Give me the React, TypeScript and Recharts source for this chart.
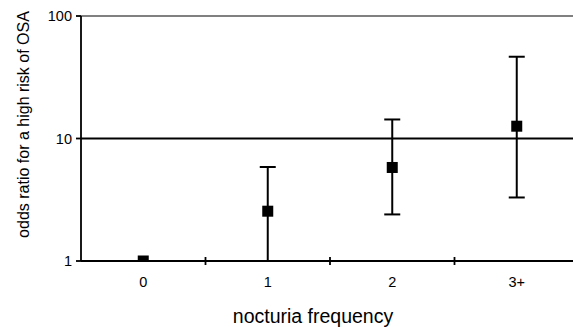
import React from "react";
import {
  ComposedChart,
  Scatter,
  XAxis,
  YAxis,
  ErrorBar,
  ReferenceLine,
} from "recharts";

const categories = ["0", "1", "2", "3+"];
const oddsRatio = [1.0, 2.55, 5.8, 12.6];
const ciLow = [1.0, 1.0, 2.4, 3.3];
const ciHigh = [1.0, 5.85, 14.3, 46.5];
const yTicks = [1, 10, 100];

const data = categories.map((c, i) => ({
  idx: i,
  cat: c,
  or: oddsRatio[i],
  err: [oddsRatio[i] - ciLow[i], ciHigh[i] - oddsRatio[i]],
}));

const xTicks: number[] = [];
categories.forEach((_, i) => {
  xTicks.push(i);
  if (i < categories.length - 1) xTicks.push(i + 0.5);
});

const FONT = "'Liberation Sans', Arial, sans-serif";

const XTick = (props: any) => {
  const { x, y, payload } = props;
  const v = payload.value;
  if (Number.isInteger(v)) {
    return (
      <text x={x} y={y + 26} textAnchor="middle" fontSize={14.5} fontFamily={FONT} fill="#000">
        {categories[v]}
      </text>
    );
  }
  return <line x1={x} y1={y - 4} x2={x} y2={y + 4} stroke="#000" strokeWidth={1.8} />;
};

const Square = (props: any) => {
  const { cx, cy } = props;
  const s = 11;
  return <rect x={cx - s / 2} y={cy - s / 2} width={s} height={s} fill="#000" />;
};

export default function App() {
  return (
    <div style={{ position: "absolute", left: 0, top: 0 }}>
      <ComposedChart
        width={600}
        height={327}
        data={data}
        margin={{ top: 16, right: 21, left: 0, bottom: 16 }}
      >
        <ReferenceLine y={100} stroke="#808080" strokeWidth={1.8} />
        <ReferenceLine y={10} stroke="#000" strokeWidth={1.8} />
        <XAxis
          dataKey="idx"
          type="number"
          domain={[-0.5, 3.5]}
          ticks={xTicks}
          interval={0}
          tickLine={false}
          tickSize={0}
          tickMargin={0}
          tick={<XTick />}
          axisLine={{ stroke: "#000", strokeWidth: 1.8 }}
          height={50}
          label={({ viewBox }: any) => (
            <text
              x={viewBox.x + viewBox.width / 2 - 17}
              y={323}
              textAnchor="middle"
              fontSize={19.5}
              fontFamily={FONT}
              fill="#000"
            >
              nocturia frequency
            </text>
          )}
        />
        <YAxis
          type="number"
          scale="log"
          domain={[1, 100]}
          ticks={yTicks}
          interval={0}
          allowDataOverflow
          width={81}
          tickSize={5}
          tickMargin={4}
          tick={{ fontSize: 14.5, fontFamily: FONT, fill: "#000" }}
          tickLine={{ stroke: "#000", strokeWidth: 1.8 }}
          axisLine={{ stroke: "#000", strokeWidth: 1.8 }}
          label={({ viewBox }: any) => {
            const lx = 29;
            const ly = viewBox.y + viewBox.height / 2 - 14;
            return (
              <text
                x={lx}
                y={ly}
                transform={`rotate(-90 ${lx} ${ly})`}
                textAnchor="middle"
                fontSize={16}
                fontFamily={FONT}
                fill="#000"
              >
                odds ratio for a high risk of OSA
              </text>
            );
          }}
        />
        <Scatter dataKey="or" shape={<Square />} isAnimationActive={false}>
          <ErrorBar dataKey="err" direction="y" width={8} stroke="#000" strokeWidth={2} />
        </Scatter>
      </ComposedChart>
    </div>
  );
}
